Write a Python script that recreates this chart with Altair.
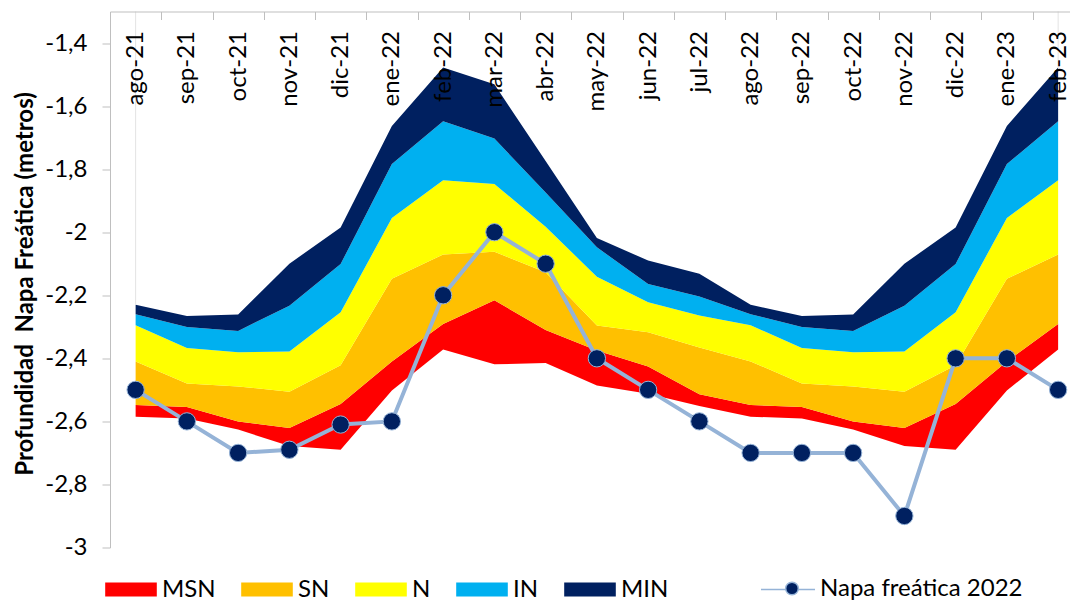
import altair as alt
import pandas as pd

meses = ["ago-21", "sep-21", "oct-21", "nov-21", "dic-21", "ene-22", "feb-22",
         "mar-22", "abr-22", "may-22", "jun-22", "jul-22", "ago-22", "sep-22",
         "oct-22", "nov-22", "dic-22", "ene-23", "feb-23"]

# band boundaries (metres), from top of MIN down to bottom of MSN
tope = [-2.23, -2.266, -2.261, -2.10, -1.985, -1.663, -1.478, -1.531, -1.774, -2.018,
        -2.09, -2.132, -2.23, -2.266, -2.261, -2.10, -1.985, -1.663, -1.478]
lim_min_in = [-2.26, -2.301, -2.313, -2.233, -2.101, -1.784, -1.648, -1.703, -1.874, -2.048,
              -2.164, -2.204, -2.26, -2.301, -2.313, -2.233, -2.101, -1.784, -1.648]
lim_in_n = [-2.295, -2.367, -2.381, -2.378, -2.254, -1.955, -1.835, -1.847, -1.983, -2.141,
            -2.222, -2.264, -2.295, -2.367, -2.381, -2.378, -2.254, -1.955, -1.835]
lim_n_sn = [-2.41, -2.48, -2.489, -2.506, -2.422, -2.148, -2.071, -2.062, -2.127, -2.296,
            -2.317, -2.366, -2.41, -2.48, -2.489, -2.506, -2.422, -2.148, -2.071]
lim_sn_msn = [-2.548, -2.554, -2.60, -2.621, -2.545, -2.41, -2.291, -2.216, -2.31, -2.375,
              -2.426, -2.514, -2.548, -2.554, -2.60, -2.621, -2.545, -2.41, -2.291]
base_msn = [-2.585, -2.591, -2.626, -2.678, -2.69, -2.502, -2.372, -2.419, -2.415, -2.486,
            -2.512, -2.551, -2.585, -2.591, -2.626, -2.678, -2.69, -2.502, -2.372]

napa = [-2.5, -2.6, -2.7, -2.69, -2.61, -2.6, -2.2, -2.0, -2.1, -2.4,
        -2.5, -2.6, -2.7, -2.7, -2.7, -2.9, -2.4, -2.4, -2.5]

bandas = ["MSN", "SN", "N", "IN", "MIN"]
colores = ["#FF0000", "#FFC000", "#FFFF00", "#00B0F0", "#002060"]
y_ticks = [-3, -2.8, -2.6, -2.4, -2.2, -2, -1.8, -1.6, -1.4]

limites = [base_msn, lim_sn_msn, lim_n_sn, lim_in_n, lim_min_in, tope]
rows = []
for i, b in enumerate(bandas):
    for m, lo, hi in zip(meses, limites[i], limites[i + 1]):
        rows.append({"mes": m, "lo": lo, "hi": hi, "banda": b})
df_b = pd.DataFrame(rows)

df_n = pd.DataFrame({"mes": meses, "napa": napa, "serie": "Napa freática 2022"})
df_edge = pd.DataFrame({"mes": [meses[0], meses[-1]], "y0": [-1.3, -1.3],
                        "y1": [tope[0], tope[-1]]})

W, H = 960, 536
STEP_RANGE = 973.75
FONT = "Lato"
FS = 24

x_scale = alt.Scale(type="band", domain=meses, range=[0, STEP_RANGE],
                    paddingInner=0, paddingOuter=0)
x_axis = alt.Axis(orient="bottom", offset=-H, tickBand="extent", labelAngle=-90,
                  labelAlign="right", labelBaseline="middle",
                  tickSize=8, labelPadding=11, tickColor="#BFBFBF", domainColor="#BFBFBF",
                  labelFont=FONT, labelFontSize=FS, labelColor="black", zindex=1,
                  grid=False, title=None)
y_scale = alt.Scale(domain=[-3, -1.3], nice=False, zero=False)
y_axis = alt.Axis(values=y_ticks, labelExpr="replace('' + datum.value, '.', ',')",
                  grid=False, domainColor="#BFBFBF", tickColor="#BFBFBF", tickSize=8,
                  labelPadding=15, labelFont=FONT, labelFontSize=FS, labelColor="black",
                  title="Profundidad\u00a0 Napa Freática (metros)", titleFont=FONT,
                  titleFontSize=24, titleFontWeight="bold", titleColor="black",
                  titleX=-85, titleY=272, titleBaseline="middle")

X = alt.X("mes:N", sort=meses, scale=x_scale, axis=x_axis, bandPosition=0.5)
Xs = alt.X("mes:N", sort=meses, bandPosition=0.5)

areas = alt.Chart(df_b).mark_area(opacity=1, interpolate="linear").encode(
    x=X,
    y=alt.Y("lo:Q", scale=y_scale, axis=y_axis, stack=None),
    y2="hi:Q",
    color=alt.Color("banda:N", sort=bandas,
                    scale=alt.Scale(domain=bandas, range=colores),
                    legend=alt.Legend(orient="none", legendX=-5, legendY=552,
                                      direction="horizontal", title=None,
                                      symbolType="M-1,-0.27H1V0.27H-1Z", symbolSize=2663,
                                      symbolStrokeWidth=0, labelFont=FONT, labelFontSize=FS,
                                      labelColor="black", labelOffset=5, columnPadding=25,
                                      padding=0, labelLimit=300)),
    detail="banda:N",
)

edges = alt.Chart(df_edge).mark_rule(color="#E3E3E3", strokeWidth=1).encode(
    x=Xs, y="y0:Q", y2="y1:Q")

line = alt.Chart(df_n).mark_line(strokeWidth=4, interpolate="linear").encode(
    x=Xs, y="napa:Q",
    stroke=alt.Stroke("serie:N", scale=alt.Scale(range=["#95B3D7"]),
                      legend=alt.Legend(orient="none", legendX=650, legendY=550,
                                        title=None, symbolType="M-1,0H1", symbolSize=2916,
                                        labelExpr="''", padding=0, labelFontSize=FS)),
)

points = alt.Chart(df_n).mark_circle(size=300, opacity=1, stroke="#95B3D7",
                                     strokeWidth=1).encode(
    x=Xs, y="napa:Q",
    fill=alt.Fill("serie:N", scale=alt.Scale(range=["#002060"]),
                  legend=alt.Legend(orient="none", legendX=670, legendY=565, zindex=2,
                                    title=None, symbolType="circle", symbolSize=160,
                                    labelFont=FONT, labelFontSize=FS, labelColor="black",
                                    labelOffset=16, padding=0, labelLimit=400)),
)

chart = alt.layer(areas, edges, line, points).resolve_scale(
    color="independent", fill="independent", stroke="independent"
).properties(
    width=W, height=H,
    autosize=alt.AutoSizeParams(type="none"),
    padding={"left": 102, "top": 3.5, "right": 0, "bottom": 55},
    background="white",
).configure_view(stroke=None)

chart.save("out.html", embed_options={"renderer": "svg", "actions": False})
